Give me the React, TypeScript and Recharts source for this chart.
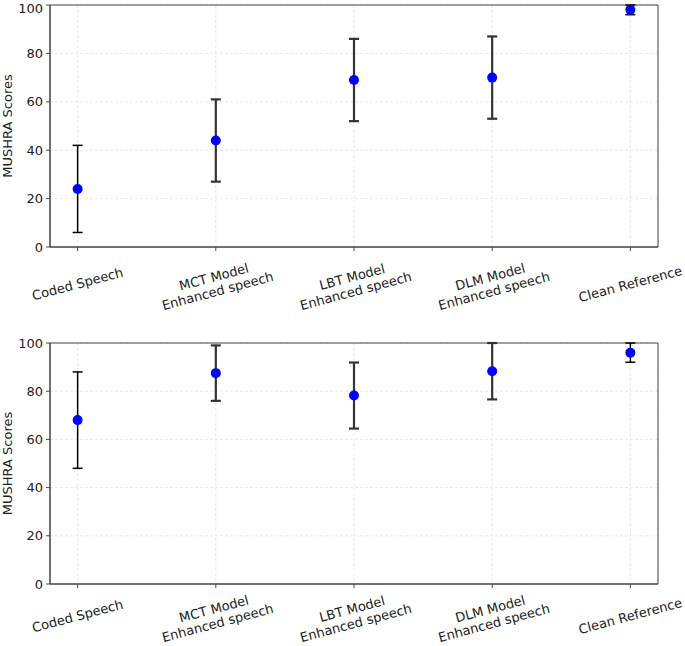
import React from 'react';
import {
  ScatterChart, Scatter, XAxis, YAxis, CartesianGrid, ErrorBar, ReferenceArea, Label,
} from 'recharts';

const categories = [
  'Coded Speech',
  'MCT Model\nEnhanced speech',
  'LBT Model\nEnhanced speech',
  'DLM Model\nEnhanced speech',
  'Clean Reference',
];
const topMeans = [24, 44, 69, 70, 98];
const topErrors = [18, 17, 17, 17, 2];
const bottomMeans = [68, 87.5, 78.2, 88.3, 96];
const bottomErrors = [20, 11.5, 13.7, 11.7, 4];
const yTicks = [0, 20, 40, 60, 80, 100];
// thin black bars for the references, thicker grey ones for the models
const thinBars = [0, 4];

const FONT = 'DejaVu Sans, sans-serif';
const FRAME = '#444';

const XTick = (props: any) => {
  const { x, y, payload, shift } = props;
  const lines = categories[payload.value].split('\n');
  const cy = y + shift;
  const lh = 14.5;
  return (
    <text
      transform={`rotate(-15, ${x}, ${cy})`}
      textAnchor="middle"
      fontFamily={FONT}
      fontSize={13}
      fill="#222"
    >
      {lines.map((l: string, i: number) => (
        <tspan key={i} x={x} y={cy + (i - (lines.length - 1) / 2) * lh + 4.5}>
          {l}
        </tspan>
      ))}
    </text>
  );
};

const Dot = (props: any) => <circle cx={props.cx} cy={props.cy} r={5} fill="#0000ff" />;

function Panel({ means, errors, height, top, axisH, shift }: { means: number[]; errors: number[]; height: number; top: number; axisH: number; shift: number }) {
  const rows = means.map((m, i) => ({ x: i, y: m, err: errors[i] }));
  const thin = rows.filter((r) => thinBars.includes(r.x));
  const thick = rows.filter((r) => !thinBars.includes(r.x));
  return (
    <ScatterChart width={685} height={height} margin={{ top, right: 27, left: 0, bottom: 0 }}>
      <CartesianGrid stroke="#e2e2e2" strokeDasharray="3 2" strokeWidth={0.8} />
      <XAxis
        type="number"
        dataKey="x"
        domain={[-0.2, 4.2]}
        ticks={[0, 1, 2, 3, 4]}
        height={axisH}
        tickSize={4}
        tick={<XTick shift={shift} />}
        axisLine={{ stroke: FRAME }}
        tickLine={{ stroke: FRAME }}
        interval={0}
      />
      <YAxis
        type="number"
        dataKey="y"
        domain={[0, 100]}
        ticks={yTicks}
        allowDataOverflow
        width={50}
        tickSize={4}
        tickMargin={3}
        tick={{ fontFamily: FONT, fontSize: 13, fill: '#222' }}
        axisLine={{ stroke: FRAME }}
        tickLine={{ stroke: FRAME }}
      >
        <Label
          content={(p: any) => {
            const vb = p.viewBox;
            const cy = vb.y + vb.height / 2;
            return (
              <text
                x={12}
                y={cy}
                transform={`rotate(-90, 12, ${cy})`}
                textAnchor="middle"
                fontFamily={FONT}
                fontSize={13}
                fill="#222"
              >
                MUSHRA Scores
              </text>
            );
          }}
        />
      </YAxis>
      <Scatter data={thin} shape={<Dot />} isAnimationActive={false}>
        <ErrorBar dataKey="err" direction="y" width={5} stroke="#000" strokeWidth={1.5} />
      </Scatter>
      <Scatter data={thick} shape={<Dot />} isAnimationActive={false}>
        <ErrorBar dataKey="err" direction="y" width={5} stroke="#333" strokeWidth={2.2} />
      </Scatter>
      <ReferenceArea x1={-0.2} x2={4.2} y1={0} y2={100} fill="none" stroke={FRAME} strokeWidth={1} />
    </ScatterChart>
  );
}

export default function App() {
  return (
    <div style={{ position: 'absolute', left: 0, top: 0, width: 685, height: 646, background: '#fff' }}>
      <Panel means={topMeans} errors={topErrors} height={330} top={5} axisH={83} shift={31} />
      <Panel means={bottomMeans} errors={bottomErrors} height={316} top={13} axisH={62} shift={26} />
    </div>
  );
}
